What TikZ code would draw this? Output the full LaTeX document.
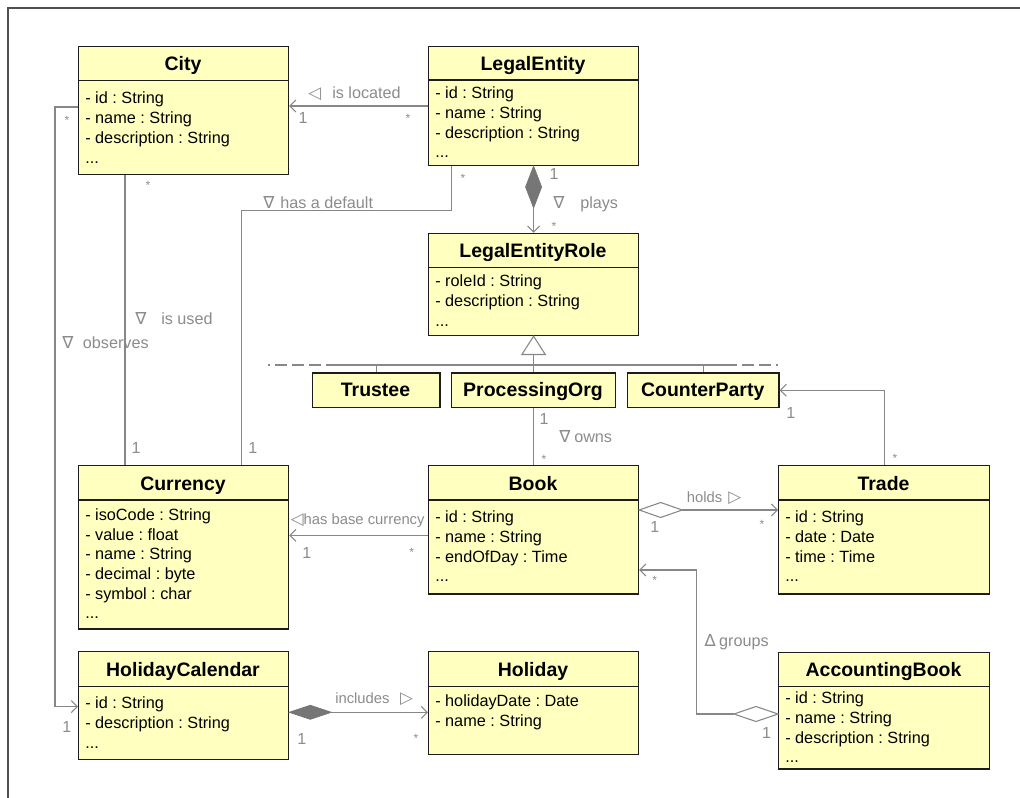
\documentclass[tikz,border=0pt]{standalone}
\usepackage{fontspec}
\setmainfont{Liberation Sans}
\newfontfamily\symfam{DejaVu Sans}
\usetikzlibrary{arrows.meta}
\frenchspacing

\definecolor{classfill}{RGB}{255,255,192}
\definecolor{classline}{RGB}{28,28,28}
\definecolor{connline}{RGB}{135,135,135}
\definecolor{conntext}{RGB}{140,140,140}
\definecolor{compfill}{RGB}{118,118,118}
\definecolor{framecol}{RGB}{80,80,80}

% direction marker in front of / behind an association name
\newcommand\umlsym[2]{\makebox[#1][l]{\symfam\fontsize{12.5}{13}\selectfont #2}}

% class box: name, x, top y, width, height, separator y, title
\newcommand\classbox[7]{%
  \node[classrect, minimum width={#4*0.75pt}, minimum height={#5*0.75pt}] (#1) at (#2,#3) {};
  \draw[classsep] (#1.west |- 0,#6) -- (#1.east |- 0,#6);
  \node[classtitle] (#1-title) at ({#2+#4/2},{(#3+#6)/2+7.5}) {#7};
}
% title-only class box: name, x, top y, width, height, title
\newcommand\smallclass[6]{%
  \node[classrect, minimum width={#4*0.75pt}, minimum height={#5*0.75pt}] (#1) at (#2,#3) {};
  \node[classtitle] (#1-title) at ({#2+#4/2},{#3+#5/2+7}) {#6};
}

\tikzset{
  classrect/.style={rectangle, draw=classline, fill=classfill, line width=0.9pt,
    anchor=north west, inner sep=0pt},
  classsep/.style={draw=classline, line width=0.9pt},
  classtitle/.style={font=\bfseries\fontsize{14.6}{16}\selectfont, anchor=base, inner sep=0pt},
  attr/.style={font=\fontsize{12.2}{14}\selectfont, anchor=base west, inner sep=0pt},
  conn/.style={draw=connline, line width=0.8pt},
  navarrow/.style={-{Straight Barb[length=4.5pt,width=9pt]}},
  comp/.style={draw=compfill, fill=compfill, line width=0.6pt, line join=miter},
  agg/.style={draw=connline, fill=white, line width=0.8pt, line join=miter},
  gen/.style={draw=connline, fill=white, line width=0.8pt},
  lbl/.style={text=conntext, font=\fontsize{12.15}{14}\selectfont, anchor=base west, inner sep=0pt},
  smalllbl/.style={text=conntext, font=\fontsize{11.1}{13}\selectfont, anchor=base west, inner sep=0pt},
  mult/.style={text=conntext, font=\fontsize{12}{14}\selectfont, anchor=base, inner sep=0pt},
  star/.style={text=conntext, font=\fontsize{9}{10}\selectfont, anchor=base, inner sep=0pt},
}

\begin{document}
\begin{tikzpicture}[x=0.75pt,y=-0.75pt]
\useasboundingbox (0,0) rectangle (1020,798);
\fill[white] (0,0) rectangle (1020,798);

% frame
\draw[draw=framecol, line width=1.1pt] (8,798) -- (8,8) -- (1020,8);

% classes
\classbox{city}{78}{46}{210}{128}{80.3}{City}
\node[attr] (city-a1) at (85,104)   {- id : String};
\node[attr] (city-a2) at (85,123.7) {- name : String};
\node[attr] (city-a3) at (85,143.4) {- description : String};
\node[attr] (city-a4) at (85,163.1) {...};

\classbox{le}{428}{46}{210}{119}{80}{LegalEntity}
\node[attr] (le-a1) at (435,98.7)  {- id : String};
\node[attr] (le-a2) at (435,118.4) {- name : String};
\node[attr] (le-a3) at (435,138.1) {- description : String};
\node[attr] (le-a4) at (435,157.8) {...};

\classbox{ler}{428}{232.7}{210}{102.3}{267.3}{LegalEntityRole}
\node[attr] (ler-a1) at (435,286.7) {- roleId : String};
\node[attr] (ler-a2) at (435,306.4) {- description : String};
\node[attr] (ler-a3) at (435,326.1) {...};

\smallclass{trustee}{311.7}{372.3}{127.6}{34.7}{Trustee}
\smallclass{porg}{451}{372.3}{164}{34.7}{ProcessingOrg}
\smallclass{cparty}{627}{372.3}{151.4}{34.7}{CounterParty}

\classbox{cur}{78}{465}{210}{163.3}{500}{Currency}
\node[attr] (cur-a1) at (85,520.3) {- isoCode : String};
\node[attr] (cur-a2) at (85,540)   {- value : float};
\node[attr] (cur-a3) at (85,559.7) {- name : String};
\node[attr] (cur-a4) at (85,579.4) {- decimal : byte};
\node[attr] (cur-a5) at (85,599.1) {- symbol : char};
\node[attr] (cur-a6) at (85,618.8) {...};

\classbox{book}{428}{465}{210}{128.3}{500}{Book}
\node[attr] (book-a1) at (435,522.7) {- id : String};
\node[attr] (book-a2) at (435,542.4) {- name : String};
\node[attr] (book-a3) at (435,562.1) {- endOfDay : Time};
\node[attr] (book-a4) at (435,581.8) {...};

\classbox{trade}{778}{465}{211}{128.3}{500}{Trade}
\node[attr] (trade-a1) at (785,522.7) {- id : String};
\node[attr] (trade-a2) at (785,542.4) {- date : Date};
\node[attr] (trade-a3) at (785,562.1) {- time : Time};
\node[attr] (trade-a4) at (785,581.8) {...};

\classbox{hcal}{78}{651}{210}{108}{686.7}{HolidayCalendar}
\node[attr] (hcal-a1) at (85,708.7) {- id : String};
\node[attr] (hcal-a2) at (85,728.4) {- description : String};
\node[attr] (hcal-a3) at (85,748.1) {...};

\classbox{hol}{428}{651}{210}{103}{686.7}{Holiday}
\node[attr] (hol-a1) at (435,706.3) {- holidayDate : Date};
\node[attr] (hol-a2) at (435,726)   {- name : String};

\classbox{acc}{778}{651.7}{211}{116.6}{686.7}{AccountingBook}
\node[attr] (acc-a1) at (785,703.7) {- id : String};
\node[attr] (acc-a2) at (785,723.4) {- name : String};
\node[attr] (acc-a3) at (785,743.1) {- description : String};
\node[attr] (acc-a4) at (785,762.8) {...};

% is located
\draw[conn, navarrow] (le.west |- 0,106) -- (city.east |- 0,106);
\node[lbl] (lbl-located) at (308,99) {\umlsym{18pt}{◁}is located};
\node[mult] (m-located-1) at (303,124) {1};
\node[star] (m-located-n) at (408,123) {*};

% observes
\draw[conn, navarrow] (city.west |- 0,107) -- (55,107) -- (55,706.7) -- (hcal.west |- 0,706.7);
\node[lbl] (lbl-observes) at (62,349) {\umlsym{15.5pt}{∇}observes};
\node[star] (m-observes-n) at (67,125) {*};
\node[mult] (m-observes-1) at (66.7,732.7) {1};

% is used
\draw[conn] (city.south -| 125,0) -- (cur.north -| 125,0);
\node[lbl] (lbl-used) at (135,325) {\umlsym{19.5pt}{∇}is used};
\node[star] (m-used-n) at (148,190) {*};
\node[mult] (m-used-1) at (136,453.3) {1};

% has a default
\draw[conn] (le.south -| 451.7,0) -- (451.7,210.7) -- (241.7,210.7) -- (cur.north -| 241.7,0);
\node[lbl] (lbl-default) at (263,209) {\umlsym{12.75pt}{∇}has a default};
\node[star] (m-default-n) at (463,183) {*};
\node[mult] (m-default-1) at (252.7,453.3) {1};

% plays (composition)
\filldraw[comp] (le.south) -- ++(8,20.8) -- ++(-8,20.8) -- ++(-8,-20.8) -- cycle;
\draw[conn, navarrow] (le.south) ++(0,41.6) -- (ler.north);
\node[lbl] (lbl-plays) at (553,208.7) {\umlsym{20.25pt}{∇}plays};
\node[mult] (m-plays-1) at (554,179.3) {1};
\node[star] (m-plays-n) at (554,231) {*};

% generalization of LegalEntityRole
\draw[gen] (ler.south) -- ++(11.7,18.3) -- ++(-23.4,0) -- cycle;
\draw[conn] (ler.south) ++(0,18.3) -- (porg.north);
\draw[conn] (338,365) -- (725,365);
\draw[conn, dash pattern=on 9pt off 3.75pt] (338,365) -- (268,365);
\draw[conn, dash pattern=on 9pt off 3.75pt] (725,365) -- (778,365);
\draw[conn] (trustee.north) -- (trustee.north |- 0,365);
\draw[conn] (cparty.north) -- (cparty.north |- 0,365);

% owns
\draw[conn] (porg.south) -- (book.north);
\node[lbl] (lbl-owns) at (559,442) {\umlsym{11.25pt}{∇}owns};
\node[mult] (m-owns-1) at (544,424.3) {1};
\node[star] (m-owns-n) at (544,463.7) {*};

% trade -> counterparty
\draw[conn, navarrow] (trade.north -| 884.3,0) |- (cparty.east);
\node[mult] (m-cparty-1) at (790.8,418.7) {1};
\node[star] (m-cparty-n) at (895,462.7) {*};

% has base currency
\draw[conn, navarrow] (book.west |- 0,535.3) -- (cur.east |- 0,535.3);
\node[smalllbl] (lbl-base) at (290.7,524.5) {\umlsym{9.5pt}{◁}has base currency};
\node[mult] (m-base-1) at (306.7,558.7) {1};
\node[star] (m-base-n) at (411.7,556) {*};

% holds (aggregation)
\draw[agg] (book.east |- 0,510) -- ++(21.5,-7.5) -- ++(21.5,7.5) -- ++(-21.5,7.5) -- cycle;
\draw[conn, navarrow] (book.east |- 0,510) ++(43,0) -- (trade.west |- 0,510);
\node[smalllbl] (lbl-holds) at (686.6,502.8) {holds\hspace{4.5pt}\umlsym{8pt}{▷}};
\node[mult] (m-holds-1) at (654.8,532) {1};
\node[star] (m-holds-n) at (762,528.7) {*};

% groups (aggregation)
\draw[agg] (acc.west |- 0,714) -- ++(-22,-7.5) -- ++(-22,7.5) -- ++(22,7.5) -- cycle;
\draw[conn, navarrow] (acc.west |- 0,714) ++(-44,0) -- (696.3,714) -- (696.3,570) -- (book.east |- 0,570);
\node[lbl] (lbl-groups) at (704.3,646) {\umlsym{10.9pt}{∆}groups};
\node[star] (m-groups-n) at (654.8,584.7) {*};
\node[mult] (m-groups-1) at (766.6,738.7) {1};

% includes (composition)
\filldraw[comp] (hcal.east |- 0,712.3) -- ++(21,-7) -- ++(21,7) -- ++(-21,7) -- cycle;
\draw[conn, navarrow] (hcal.east |- 0,712.3) ++(42,0) -- (hol.west |- 0,712.3);
\node[smalllbl] (lbl-includes) at (335,703.5) {includes\hspace{8pt}\umlsym{8pt}{▷}};
\node[mult] (m-includes-1) at (301.7,744) {1};
\node[star] (m-includes-n) at (416,742) {*};
\end{tikzpicture}
\end{document}
